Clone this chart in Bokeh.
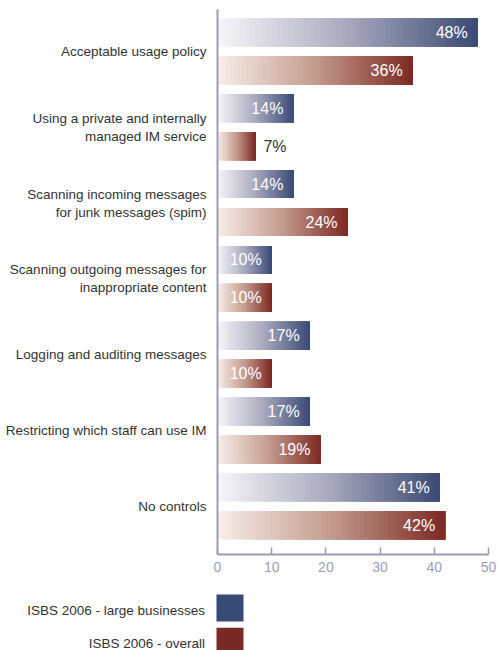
from bokeh.plotting import figure
from bokeh.models import Range1d, FixedTicker, ColumnDataSource
from bokeh.core.properties import value
from bokeh.embed import file_html
from bokeh.resources import INLINE

# ---------------- data ----------------
categories = [
    "Acceptable usage policy",
    "Using a private and internally\nmanaged IM service",
    "Scanning incoming messages\nfor junk messages (spim)",
    "Scanning outgoing messages for\ninappropriate content",
    "Logging and auditing messages",
    "Restricting which staff can use IM",
    "No controls",
]
large_businesses = [48, 14, 14, 10, 17, 17, 41]
overall = [36, 7, 24, 10, 10, 19, 42]
series_names = ["ISBS 2006 - large businesses", "ISBS 2006 - overall"]
x_ticks = [0, 10, 20, 30, 40, 50]

# ---------------- styles ----------------
FONT = "Liberation Sans"
AXIS_COLOR = "#9b9bba"
TEXT_COLOR = "#333333"
BLUE_STOPS = [(0.0, "#f7f6f9"), (0.5, "#a9a9be"), (1.0, "#3a4a74")]
RED_STOPS = [(0.0, "#f8eee9"), (0.5, "#c49b8e"), (1.0, "#7b2923")]
SWATCH = ["#364a75", "#7a2a25"]
N_SEG = 48
BAR_H = 0.739


def hex2rgb(h):
    h = h.lstrip("#")
    return [int(h[i:i + 2], 16) for i in (0, 2, 4)]


def grad(stops, t):
    for (t0, c0), (t1, c1) in zip(stops[:-1], stops[1:]):
        if t <= t1:
            f = (t - t0) / (t1 - t0)
            a, b = hex2rgb(c0), hex2rgb(c1)
            return "#%02x%02x%02x" % tuple(round(a[i] + (b[i] - a[i]) * f) for i in range(3))
    return stops[-1][1]


p = figure(width=497, height=585, x_range=Range1d(0, 50),
           y_range=Range1d(13.773, -0.607),
           output_backend="svg", toolbar_location=None,
           min_border_left=217, min_border_right=9,
           min_border_top=9, min_border_bottom=31)
p.xgrid.visible = False
p.ygrid.visible = False
p.outline_line_color = None
p.background_fill_color = "white"
p.border_fill_color = "white"

# gradient bars: overlapping segments
seg_y, seg_l, seg_r, seg_c = [], [], [], []
in_x, in_y, in_t = [], [], []
out_x, out_y, out_t = [], [], []
for i in range(len(categories)):
    for s, (vals, stops) in enumerate([(large_businesses, BLUE_STOPS), (overall, RED_STOPS)]):
        v = vals[i]
        k = 2 * i + s
        for j in range(N_SEG):
            seg_y.append(k)
            seg_l.append(v * j / N_SEG)
            seg_r.append(v)
            seg_c.append(grad(stops, (j + 0.5) / N_SEG))
        if v >= 9:
            in_x.append(v); in_y.append(k); in_t.append(f"{v}%")
        else:
            out_x.append(v); out_y.append(k); out_t.append(f"{v}%")

p.hbar(y="y", left="l", right="r", height=BAR_H, fill_color="c", line_color=None,
       source=ColumnDataSource(dict(y=seg_y, l=seg_l, r=seg_r, c=seg_c)))

p.text(x=in_x, y=in_y, text=in_t, x_offset=-10, text_align="right",
       text_baseline="middle", text_color="white", text_font=value(FONT),
       text_font_size="16px")
p.text(x=out_x, y=out_y, text=out_t, x_offset=8, text_align="left",
       text_baseline="middle", text_color=TEXT_COLOR, text_font=value(FONT),
       text_font_size="16px")

# axes
ax = p.xaxis[0]
ax.ticker = FixedTicker(ticks=x_ticks)
ax.axis_line_color = AXIS_COLOR
ax.axis_line_width = 2
ax.major_tick_line_color = AXIS_COLOR
ax.major_tick_line_width = 1.5
ax.major_tick_in = 7
ax.major_tick_out = 0
ax.minor_tick_line_color = None
ax.major_label_text_color = "#9d9dbb"
ax.major_label_text_font = FONT
ax.major_label_text_font_size = "14px"
ax.major_label_standoff = 7

ay = p.yaxis[0]
cat_ticks = [2 * i + 0.5 for i in range(len(categories))]
ay.ticker = FixedTicker(ticks=cat_ticks)
ay.major_label_overrides = {t: c for t, c in zip(cat_ticks, categories)}
ay.axis_line_color = AXIS_COLOR
ay.axis_line_width = 2
ay.major_tick_line_color = None
ay.major_tick_in = 0
ay.major_tick_out = 0
ay.minor_tick_line_color = None
ay.major_label_text_color = TEXT_COLOR
ay.major_label_text_font = FONT
ay.major_label_text_font_size = "13.5px"
ay.major_label_standoff = 11

# legend (label left, swatch right), separate root so it is not frame-aligned
leg = figure(width=497, height=65, x_range=Range1d(0, 497), y_range=Range1d(65, 0),
             output_backend="svg", toolbar_location=None,
             min_border_left=0, min_border_right=0, min_border_top=0, min_border_bottom=0)
leg.axis.visible = False
leg.xgrid.visible = False
leg.ygrid.visible = False
leg.outline_line_color = None
LEG_TEXT_X = 204.5
LEG_SWATCH_X = 229.5
LEG_ROW0 = 22.5
LEG_PITCH = 33.3
rows = [LEG_ROW0 + LEG_PITCH * i for i in range(len(series_names))]
leg.rect(x=[LEG_SWATCH_X] * len(series_names), y=rows, width=27, height=27,
         width_units="screen", height_units="screen", fill_color=SWATCH, line_color=None)
leg.text(x=[LEG_TEXT_X] * len(series_names), y=[r + 2 for r in rows], text=series_names,
         text_align="right", text_baseline="middle", text_color=TEXT_COLOR,
         text_font=value(FONT), text_font_size="13.5px")

open("out.html", "w").write(file_html([p, leg], INLINE))
